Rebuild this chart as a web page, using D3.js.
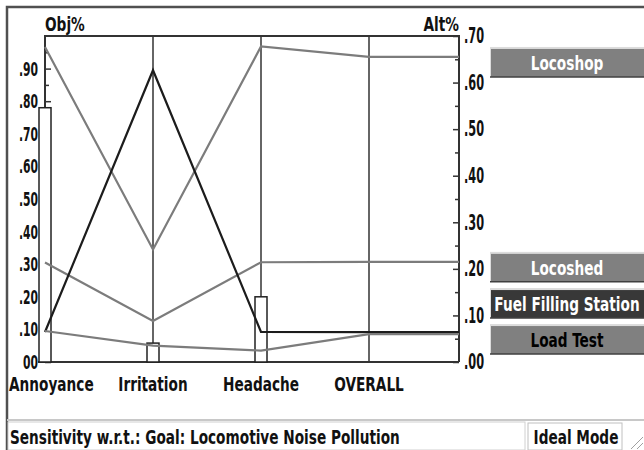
<!DOCTYPE html>
<html>
<head>
<meta charset="utf-8">
<script src="https://cdn.jsdelivr.net/npm/d3@7"></script>
<style>
  body { margin: 0; background: #fff; }
  text { font-family: "DejaVu Sans Condensed", "DejaVu Sans", sans-serif; font-weight: bold; }
</style>
</head>
<body>
<script>
// criteria on the x axis, the last one is the overall result
const criteria = ["Annoyance", "Irritation", "Headache", "OVERALL"];
// criterion weights (bars, Obj% scale)
const criteriaWeights = [0.78, 0.058, 0.20];

const alternatives = ["Locoshop", "Locoshed", "Fuel Filling Station", "Load Test"];
// priority of each alternative under each criterion (Obj% scale)
const locoshop = [0.966, 0.345, 0.968];
const locoshed = [0.305, 0.126, 0.306];
const fuelFilling = [0.092, 0.895, 0.092];
const loadTest = [0.095, 0.05, 0.035];
// overall priorities (Alt% scale)
const overall = [0.655, 0.215, 0.064, 0.060];

const leftTicks = [0, 0.1, 0.2, 0.3, 0.4, 0.5, 0.6, 0.7, 0.8, 0.9];
const leftTickLabels = ["00", ".10", ".20", ".30", ".40", ".50", ".60", ".70", ".80", ".90"];
const rightTicks = [0, 0.1, 0.2, 0.3, 0.4, 0.5, 0.6, 0.7];
const rightTickLabels = [".00", ".10", ".20", ".30", ".40", ".50", ".60", ".70"];

const options = {
    width: 644,
    height: 450,
    top: 36,
    bottom: 362,
    left: 45,
    right: 459,
    squeeze: 0.76,      // the original uses a narrow font
    tickSqueeze: 0.6,
}

const series = [locoshop, locoshed, fuelFilling, loadTest];
const lineColors = ["#7c7c7c", "#7c7c7c", "#1c1c1c", "#7c7c7c"];
const labelFill = ["#808080", "#808080", "#383838", "#808080"];
const labelText = ["#ffffff", "#ffffff", "#ffffff", "#000000"];

let svg = d3.select("body")
    .append("svg")
    .attr("width", options.width)
    .attr("height", options.height)

let x = d3.scalePoint()
    .domain(criteria)
    .range([options.left, 369])

let yL = d3.scaleLinear().domain([0, 1]).range([options.bottom, options.top])
let yR = d3.scaleLinear().domain([0, 0.7]).range([options.bottom, options.top])

// window frame
svg.append("path")
    .attr("d", `M7,450 V7 H644`)
    .attr("fill", "none")
    .attr("stroke", "#505050")
    .attr("stroke-width", 2.5)

// status bar
svg.append("line")
    .attr("x1", 7).attr("x2", 644).attr("y1", 420).attr("y2", 420)
    .attr("stroke", "#c8c8c8").attr("stroke-width", 2)
svg.append("rect")
    .attr("x", 8).attr("y", 422).attr("width", 517).attr("height", 28)
    .attr("fill", "#ffffff").attr("stroke", "#d0d0d0")
svg.append("text")
    .attr("x", 10).attr("y", 444)
    .attr("font-size", 20)
    .attr("fill", "#111")
    .text("Sensitivity w.r.t.: Goal: Locomotive Noise Pollution")
svg.append("rect")
    .attr("x", 528).attr("y", 423).attr("width", 94).attr("height", 27)
    .attr("fill", "#ffffff").attr("stroke", "#c0c0c0")
svg.append("text")
    .attr("x", 576).attr("y", 444)
    .attr("text-anchor", "middle")
    .attr("font-size", 20)
    .attr("fill", "#111")
    .text("Ideal Mode")
svg.selectAll(".grip")
    .data([0, 6, 12])
    .enter()
    .append("line")
    .attr("x1", d => 643 - d).attr("y1", 449)
    .attr("x2", 643).attr("y2", d => 449 - d)
    .attr("stroke", "#a0a0a0")

// plot frame: top line and right axis
svg.append("path")
    .attr("d", `M${options.left},${options.bottom} V${options.top} H${options.right} V${options.bottom}`)
    .attr("fill", "none")
    .attr("stroke", "#333")
    .attr("stroke-width", 2)
svg.append("line")
    .attr("x1", 38).attr("x2", options.right)
    .attr("y1", options.bottom).attr("y2", options.bottom)
    .attr("stroke", "#333").attr("stroke-width", 2)

// criterion axes
svg.selectAll(".crit")
    .data(criteria)
    .enter()
    .append("line")
    .attr("x1", d => x(d)).attr("x2", d => x(d))
    .attr("y1", options.top).attr("y2", options.bottom)
    .attr("stroke", "#333").attr("stroke-width", 1.5)

// left axis (Obj%)
let leftAxis = svg.append("g")
    .attr("transform", `translate(${options.left},0)`)
    .call(d3.axisLeft(yL)
        .tickValues(leftTicks)
        .tickSizeInner(-6)
        .tickSizeOuter(0)
        .tickPadding(7)
        .tickFormat((d, i) => leftTickLabels[i]))
leftAxis.select(".domain").remove()
leftAxis.selectAll("line").attr("stroke", "#333").attr("stroke-width", 1.5)
leftAxis.selectAll("text").attr("class", "tick-label").attr("font-size", 20).attr("fill", "#111").attr("font-family", null)

svg.append("g")
    .attr("transform", `translate(${options.left},0)`)
    .call(d3.axisLeft(yL)
        .tickValues(leftTicks.map(d => d + 0.05))
        .tickSizeInner(-4)
        .tickSizeOuter(0)
        .tickFormat(""))
    .call(g => g.select(".domain").remove())
    .selectAll("line").attr("stroke", "#333").attr("stroke-width", 1.5)

// right axis (Alt%)
let rightAxis = svg.append("g")
    .attr("transform", `translate(${options.right},0)`)
    .call(d3.axisRight(yR)
        .tickValues(rightTicks)
        .tickSizeInner(-6)
        .tickSizeOuter(0)
        .tickPadding(5)
        .tickFormat((d, i) => rightTickLabels[i]))
rightAxis.select(".domain").remove()
rightAxis.selectAll("line").attr("stroke", "#333").attr("stroke-width", 1.5)
rightAxis.selectAll("text").attr("class", "tick-label").attr("font-size", 21).attr("fill", "#111").attr("font-family", null)

svg.append("g")
    .attr("transform", `translate(${options.right},0)`)
    .call(d3.axisRight(yR)
        .tickValues(rightTicks.slice(0, -1).map(d => d + 0.05))
        .tickSizeInner(-4)
        .tickSizeOuter(0)
        .tickFormat(""))
    .call(g => g.select(".domain").remove())
    .selectAll("line").attr("stroke", "#333").attr("stroke-width", 1.5)

// axis titles
svg.append("text")
    .attr("x", options.left).attr("y", 31)
    .attr("font-size", 20).attr("fill", "#111")
    .text("Obj%")
svg.append("text")
    .attr("x", options.right).attr("y", 31)
    .attr("text-anchor", "end")
    .attr("font-size", 20).attr("fill", "#111")
    .text("Alt%")

// criterion labels
svg.selectAll(".critLabel")
    .data(criteria)
    .enter()
    .append("text")
    .attr("class", "critLabel")
    .attr("x", d => x(d))
    .attr("y", 391)
    .attr("text-anchor", "middle")
    .attr("font-size", 20)
    .attr("fill", "#111")
    .text(d => d)

// criterion weight bars
const barW = 12;
svg.selectAll(".bar")
    .data(criteriaWeights)
    .enter()
    .append("rect")
    .attr("x", (d, i) => x(criteria[i]) - barW / 2)
    .attr("y", d => yL(d))
    .attr("width", barW)
    .attr("height", d => options.bottom - yL(d))
    .attr("fill", "#fff")
    .attr("stroke", "#222")
    .attr("stroke-width", 1.5)

// alternative lines
const line = d3.line()
    .x(d => d[0])
    .y(d => d[1]);

svg.selectAll(".alt")
    .data(series)
    .enter()
    .append("path")
    .attr("fill", "none")
    .attr("stroke", (d, i) => lineColors[i])
    .attr("stroke-width", 2.2)
    .attr("d", (d, i) => {
        let pts = d.map((v, j) => [x(criteria[j]), yL(v)]);
        pts.push([x("OVERALL"), yR(overall[i])]);
        pts.push([options.right, yR(overall[i])]);
        return line(pts);
    })

// alternative labels on the right, pushed apart so they do not overlap
const boxH = 28, gap = 36, boxX = 490, boxW = options.width - boxX;
let order = d3.range(alternatives.length).sort((a, b) => overall[a] - overall[b]);
let centers = [];
let prev = Infinity;
order.forEach(i => {
    let c = Math.min(yR(overall[i]) + 6, prev - gap);
    centers[i] = c;
    prev = c;
});

let labels = svg.selectAll(".altLabel")
    .data(alternatives)
    .enter()
    .append("g")
    .attr("transform", (d, i) => `translate(${boxX},${centers[i] - boxH / 2})`)

labels.append("rect")
    .attr("x", 0).attr("y", -2)
    .attr("width", boxW).attr("height", boxH + 2)
    .attr("fill", "#dcdcdc")
labels.append("rect")
    .attr("x", 1).attr("y", 0)
    .attr("width", boxW - 1).attr("height", boxH)
    .attr("fill", (d, i) => labelFill[i])
labels.append("line")
    .attr("x1", 0).attr("x2", boxW)
    .attr("y1", boxH).attr("y2", boxH)
    .attr("stroke", "#404040").attr("stroke-width", 1.5)
labels.append("text")
    .attr("x", 77)
    .attr("y", boxH / 2 + 7)
    .attr("text-anchor", "middle")
    .attr("font-size", 20)
    .attr("fill", (d, i) => labelText[i])
    .text(d => d)

// narrow every text around its anchor to mimic the condensed font of the original
svg.selectAll("text").each(function() {
    const k = this.classList.contains("tick-label") ? options.tickSqueeze : options.squeeze;
    const ax = +(this.getAttribute("x") || 0);
    d3.select(this).attr("transform", `translate(${ax},0) scale(${k},1) translate(${-ax},0)`);
})

// keep the first criterion label inside the window frame
svg.selectAll(".critLabel").each(function() {
    const b = this.getBoundingClientRect();
    if (b.left < 9) {
        const nx = +this.getAttribute("x") + (9 - b.left);
        d3.select(this)
            .attr("x", nx)
            .attr("transform", `translate(${nx},0) scale(${options.squeeze},1) translate(${-nx},0)`);
    }
})
</script>
</body>
</html>
